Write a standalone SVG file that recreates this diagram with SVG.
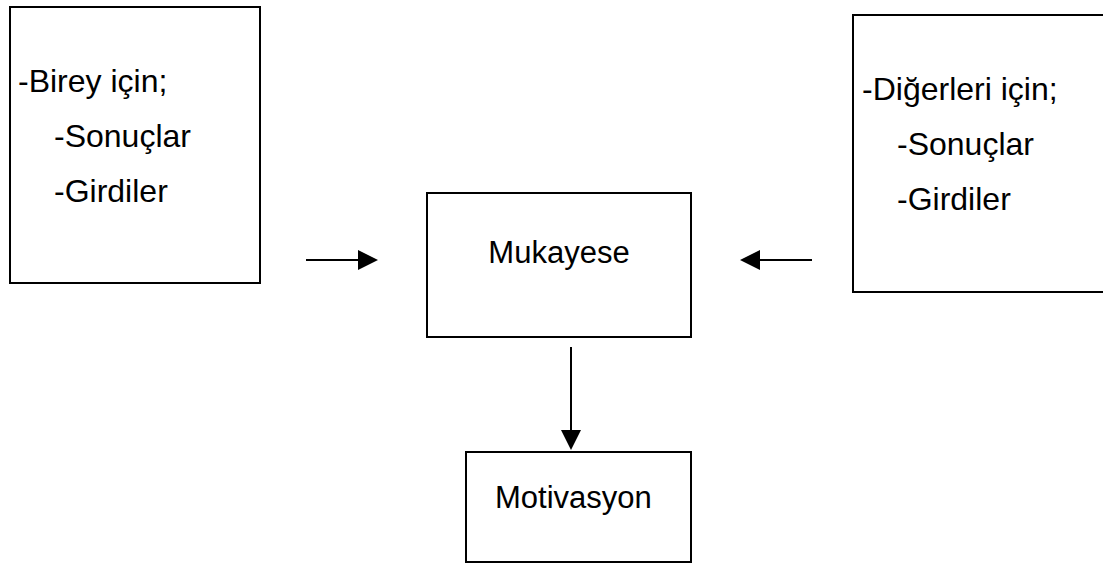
<svg xmlns="http://www.w3.org/2000/svg" width="1103" height="563" viewBox="0 0 1103 563">
  <style>
    .box { fill: #ffffff; stroke: #000000; stroke-width: 2; }
    .label { font-family: "Liberation Sans", Arial, sans-serif; font-size: 31px; fill: #000000; }
    .list { font-size: 32px; }
    .link { fill: none; stroke: #000000; stroke-width: 2; }
  </style>
  <defs>
    <marker id="arrow" viewBox="0 0 20 20" refX="2" refY="10" markerWidth="20" markerHeight="20" markerUnits="userSpaceOnUse" orient="auto">
      <path d="M0,0 L20,10 L0,20 Z" fill="#000000"/>
    </marker>
  </defs>
  <rect x="0" y="0" width="1103" height="563" fill="#ffffff"/>

  <g id="birey">
    <rect class="box" x="10" y="7" width="250" height="276"/>
    <text class="label list" x="18" y="92">-Birey için;</text>
    <text class="label list" x="54" y="147">-Sonuçlar</text>
    <text class="label list" x="54" y="202">-Girdiler</text>
  </g>

  <g id="digerleri">
    <rect class="box" x="853" y="15" width="252" height="277"/>
    <text class="label list" x="862" y="100">-Diğerleri için;</text>
    <text class="label list" x="897" y="155">-Sonuçlar</text>
    <text class="label list" x="897" y="210">-Girdiler</text>
  </g>

  <g id="mukayese">
    <rect class="box" x="427" y="193" width="264" height="144"/>
    <text class="label" x="559" y="263" text-anchor="middle">Mukayese</text>
  </g>

  <g id="motivasyon">
    <rect class="box" x="466" y="452" width="225" height="110"/>
    <text class="label" x="495" y="508">Motivasyon</text>
  </g>

  <g id="connectors">
    <path class="link" d="M306,260 H360" marker-end="url(#arrow)"/>
    <path class="link" d="M812,260 H758" marker-end="url(#arrow)"/>
    <path class="link" d="M571,347 V432" marker-end="url(#arrow)"/>
  </g>
</svg>
